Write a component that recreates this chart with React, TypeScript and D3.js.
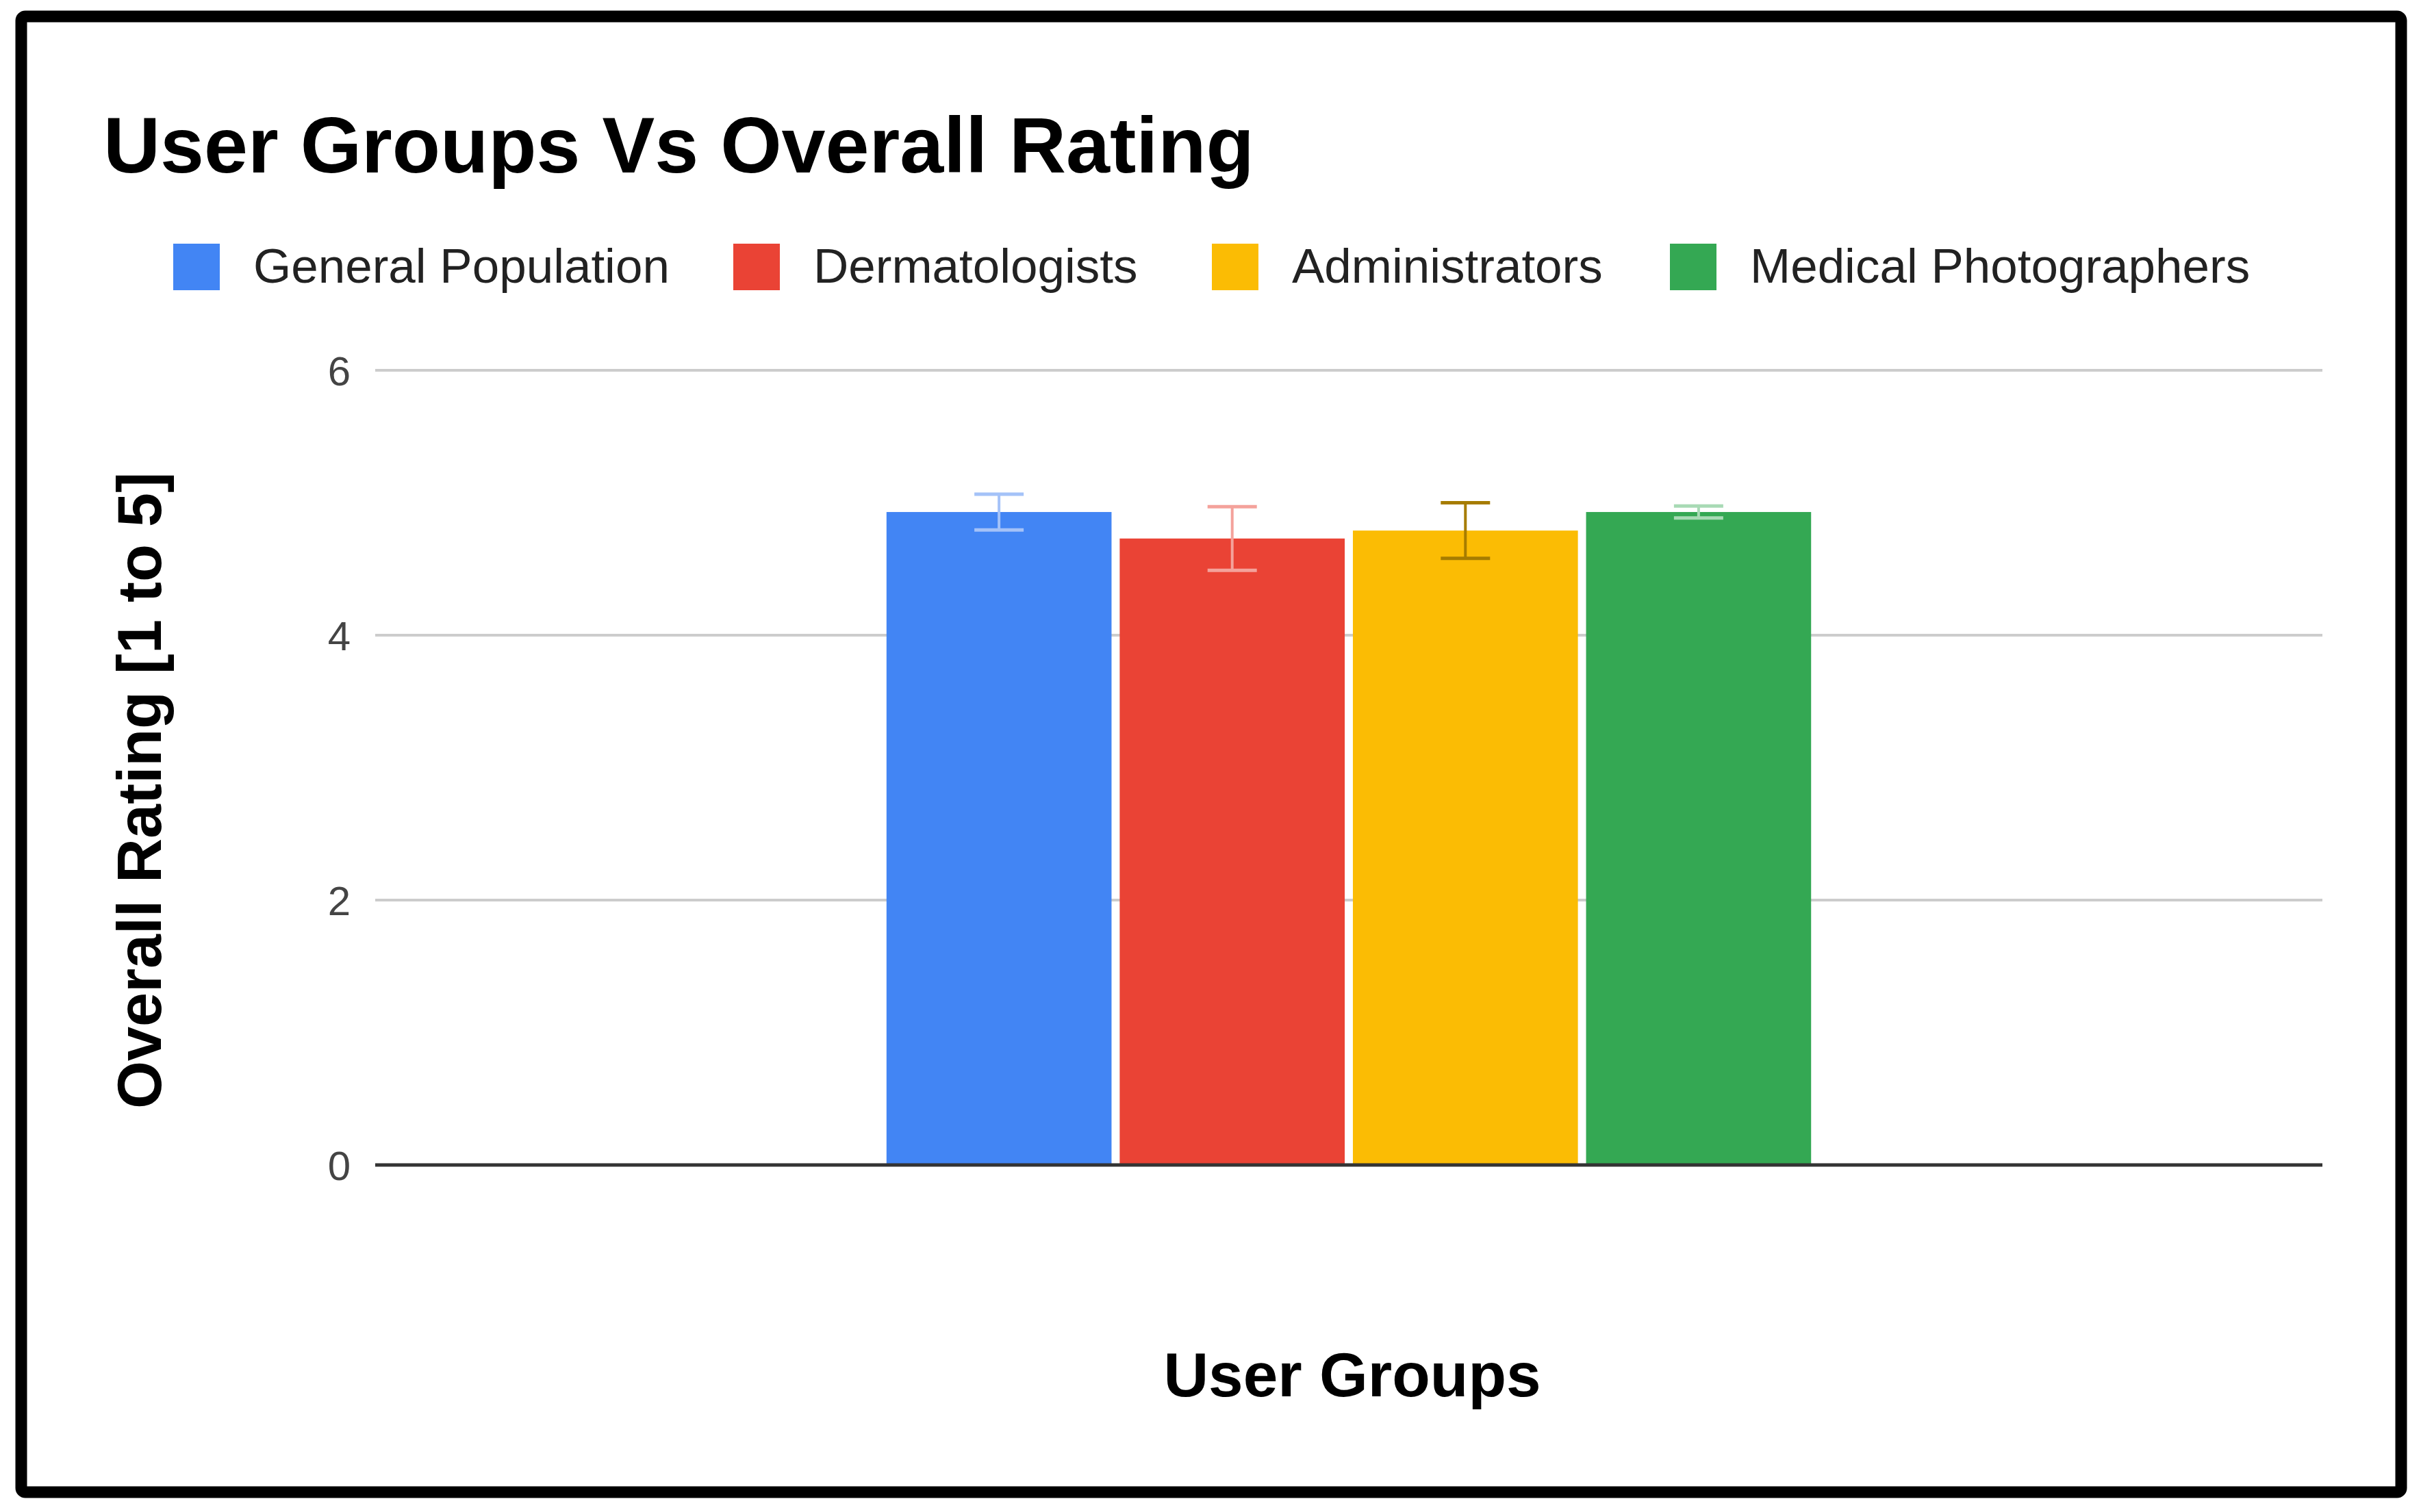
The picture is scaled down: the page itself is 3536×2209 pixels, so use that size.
import React, { useRef, useEffect } from 'react';
import * as d3 from 'd3';

const groups = ['General Population', 'Dermatologists', 'Administrators', 'Medical Photographers'];
const ratings = [4.93, 4.73, 4.79, 4.93];
const errors = [0.135, 0.24, 0.21, 0.045];
const colors = ['#4285F4', '#EA4335', '#FBBC04', '#34A853'];
const errColors = ['#a4c2f8', '#f4a29b', '#a67c00', '#a8dab5'];
const yTicks = [0, 2, 4, 6];
const category = [''];

const FONT = '"Liberation Sans", Arial, sans-serif';

export default function App() {
  const svgRef = useRef<SVGSVGElement>(null);

  useEffect(() => {
    const svg = d3.select(svgRef.current);
    svg.selectAll('*').remove();
    if (!svgRef.current) return;

    const width = 3536;
    const height = 2209;
    const plot = { left: 548, right: 3392, top: 541, bottom: 1702 };

    svg.append('rect').attr('width', width).attr('height', height).attr('fill', 'white');

    // Frame
    svg.append('rect')
      .attr('x', 31).attr('y', 24).attr('width', 3476).attr('height', 2156)
      .attr('rx', 6).attr('fill', 'white').attr('stroke', 'black').attr('stroke-width', 17);

    // Title
    svg.append('text')
      .attr('x', 151).attr('y', 252)
      .attr('font-family', FONT).attr('font-weight', 'bold').attr('font-size', 115)
      .attr('fill', 'black')
      .text('User Groups Vs Overall Rating');

    // Legend
    const legendX = [253, 1071, 1770, 2439];
    groups.forEach((g, i) => {
      svg.append('rect')
        .attr('x', legendX[i]).attr('y', 356).attr('width', 68).attr('height', 68)
        .attr('fill', colors[i]);
      svg.append('text')
        .attr('x', legendX[i] + 117).attr('y', 413)
        .attr('font-family', FONT).attr('font-size', 71).attr('fill', '#222')
        .text(g);
    });

    const y = d3.scaleLinear().domain([0, 6]).range([plot.bottom, plot.top]);

    // Gridlines
    yTicks.filter((t) => t !== 0).forEach((t) => {
      svg.append('line')
        .attr('x1', plot.left).attr('x2', plot.right).attr('y1', y(t)).attr('y2', y(t))
        .attr('stroke', '#cccccc').attr('stroke-width', 4);
    });

    // Tick labels
    yTicks.forEach((t) => {
      svg.append('text')
        .attr('x', 512).attr('y', y(t)).attr('dy', '0.36em')
        .attr('text-anchor', 'end')
        .attr('font-family', FONT).attr('font-size', 60).attr('fill', '#444')
        .text(t);
    });

    const x0 = d3.scaleBand().domain(category).range([plot.left, plot.right]).paddingOuter(0.553);
    const x1 = d3.scaleBand().domain(groups).range([0, x0.bandwidth()]).paddingInner(0.035);
    const gx = x0('') ?? 0;

    // Bars
    groups.forEach((g, i) => {
      const bx = gx + (x1(g) ?? 0);
      svg.append('rect')
        .attr('x', bx).attr('y', y(ratings[i]))
        .attr('width', x1.bandwidth()).attr('height', y(0) - y(ratings[i]))
        .attr('fill', colors[i]);
    });

    // Baseline
    svg.append('line')
      .attr('x1', plot.left).attr('x2', plot.right).attr('y1', y(0)).attr('y2', y(0))
      .attr('stroke', '#333').attr('stroke-width', 5);

    // Error bars
    groups.forEach((g, i) => {
      const cx = gx + (x1(g) ?? 0) + x1.bandwidth() / 2;
      const hi = y(ratings[i] + errors[i]);
      const lo = y(ratings[i] - errors[i]);
      const eg = svg.append('g').attr('stroke', errColors[i]);
      eg.append('line').attr('x1', cx).attr('x2', cx).attr('y1', hi).attr('y2', lo).attr('stroke-width', 4);
      [hi, lo].forEach((yy) => {
        eg.append('line').attr('x1', cx - 36).attr('x2', cx + 36).attr('y1', yy).attr('y2', yy)
          .attr('stroke-width', 5);
      });
    });

    // Axis titles
    svg.append('text')
      .attr('transform', 'translate(235,1155) rotate(-90)')
      .attr('text-anchor', 'middle')
      .attr('font-family', FONT).attr('font-weight', 'bold').attr('font-size', 90)
      .attr('fill', 'black')
      .text('Overall Rating [1 to 5]');

    svg.append('text')
      .attr('x', (plot.left + plot.right) / 2 + 5).attr('y', 2040)
      .attr('text-anchor', 'middle')
      .attr('font-family', FONT).attr('font-weight', 'bold').attr('font-size', 91)
      .attr('fill', 'black')
      .text('User Groups');
  }, []);

  return (
    <svg
      ref={svgRef}
      width={3536}
      height={2209}
      style={{ position: 'absolute', left: 0, top: 0, display: 'block' }}
    />
  );
}
